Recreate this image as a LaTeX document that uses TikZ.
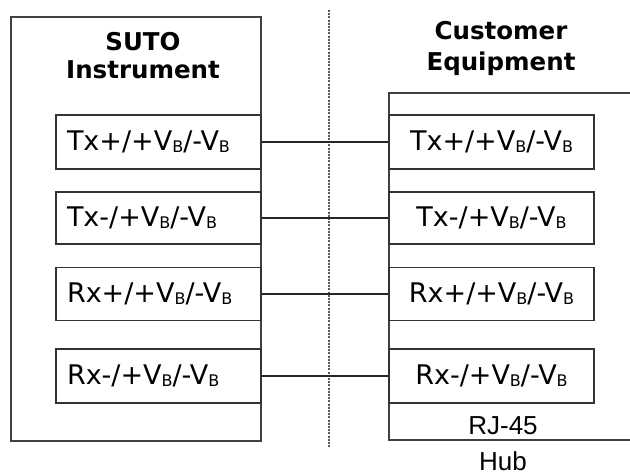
\documentclass[tikz,border=0pt]{standalone}
\usepackage{fontspec}
\setmainfont{DejaVu Sans}
\newfontfamily\hubfont{Liberation Sans}
\usetikzlibrary{positioning}
\newcommand\vsub{V{\fontsize{16}{16}\selectfont\raisebox{-2pt}{B}}}

\begin{document}
\begin{tikzpicture}[x=1pt,y=-1pt,
    port/.style={draw=black!80,line width=1.6pt,minimum width=205pt,inner ysep=0pt,
      font=\fontsize{27}{30}\selectfont},
    lport/.style={port,text width=183pt,align=left,inner xsep=11pt},
    rport/.style={port,inner xsep=0pt},
    wire/.style={draw=black!85,line width=1.5pt},
    title/.style={align=center,font=\fontsize{24.5}{28}\bfseries\selectfont}]
    \useasboundingbox (0,0) rectangle (630,475);
    \draw [black!75,line width=1.6pt] (11,17) rectangle (261,441);
    \draw [black!75,line width=1.6pt] (630,93) -| (389,440) -- (630,440);
    \draw [black!65,line width=2pt,dash pattern=on 2pt off 1.2pt] (329,10) -- (329,447);
    \node [title] (suto) at (143,56) {SUTO\\Instrument};
    \node [title,font=\fontsize{24.5}{31}\bfseries\selectfont] (cust) at (501,48) {Customer\\Equipment};
    \node [lport,minimum height=54pt] (l1) at (158.5,142) {Tx+/+\vsub/-\vsub};
    \node [lport,minimum height=52pt] (l2) at (158.5,218) {Tx-/+\vsub/-\vsub};
    \node [lport,minimum height=53pt] (l3) at (158.5,294) {Rx+/+\vsub/-\vsub};
    \node [lport,minimum height=54pt] (l4) at (158.5,376) {Rx-/+\vsub/-\vsub};
    \node [rport,minimum height=54pt] (r1) at (491.5,142) {Tx+/+\vsub/-\vsub};
    \node [rport,minimum height=52pt] (r2) at (491.5,218) {Tx-/+\vsub/-\vsub};
    \node [rport,minimum height=53pt] (r3) at (491.5,294) {Rx+/+\vsub/-\vsub};
    \node [rport,minimum height=54pt] (r4) at (491.5,376) {Rx-/+\vsub/-\vsub};
    \draw [wire] (l1) -- (r1);
    \draw [wire] (l2) -- (r2);
    \draw [wire] (l3) -- (r3);
    \draw [wire] (l4) -- (r4);
    \node [font=\hubfont\fontsize{26}{36}\selectfont,align=center] (hub) at (503,444) {RJ-45\\Hub};
\end{tikzpicture}
\end{document}
